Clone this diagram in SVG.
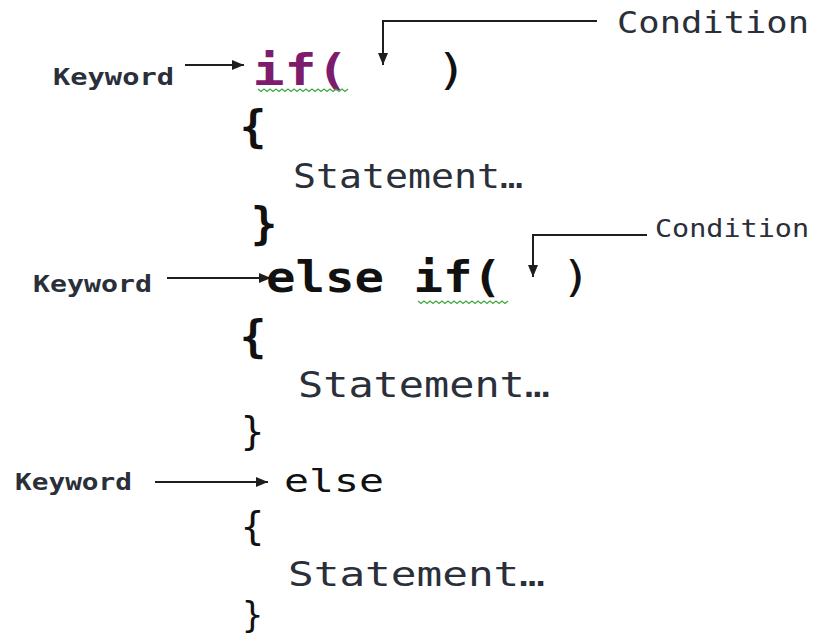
<svg xmlns="http://www.w3.org/2000/svg" width="818" height="638" viewBox="0 0 818 638">
<style>
  .mono { font-family: "DejaVu Sans Mono", "Liberation Mono", monospace; }
  .lbl { font-family: "DejaVu Sans Mono", "Liberation Mono", monospace; fill: #2a2f3a; }
  .kw { font-weight: bold; font-size: 23px; }
  .code { fill: #111111; }
  .purple { fill: #7d1b6c; font-weight: bold; }
  .arrow { fill: none; stroke: #1e1e1e; stroke-width: 2; marker-end: url(#ah); }
  .squig { fill: none; stroke: #3fa83f; stroke-width: 1.2; }
  .brace { font-family: "DejaVu Sans Mono", "Liberation Mono", monospace; fill: #111111; text-anchor: middle; }
</style>
<defs>
  <marker id="ah" markerUnits="userSpaceOnUse" markerWidth="13" markerHeight="11" refX="12" refY="5" orient="auto">
    <path d="M0,0 L12,5 L0,10 Z" fill="#1e1e1e"/>
  </marker>
</defs>
<rect width="818" height="638" fill="#ffffff"/>

<g id="connectors">
  <path class="arrow" d="M597,21 H383 V65"/>
  <path class="arrow" d="M185,65 H244"/>
  <path class="arrow" d="M647,235 H533 V277"/>
  <path class="arrow" d="M167,278 H271"/>
  <path class="arrow" d="M155,482 H268"/>
</g>

<g id="condition1"><text class="lbl" x="617" y="33" font-size="31" textLength="192" lengthAdjust="spacingAndGlyphs">Condition</text></g>
<g id="condition2"><text class="lbl" x="655" y="237" font-size="24" textLength="154" lengthAdjust="spacingAndGlyphs">Condition</text></g>

<g id="keyword1"><text class="lbl kw" x="53" y="85" textLength="121" lengthAdjust="spacingAndGlyphs">Keyword</text></g>
<g id="keyword2"><text class="lbl kw" x="33" y="292" textLength="119" lengthAdjust="spacingAndGlyphs">Keyword</text></g>
<g id="keyword3"><text class="lbl kw" x="15" y="490" textLength="117" lengthAdjust="spacingAndGlyphs">Keyword</text></g>

<g id="if-line">
  <text class="mono purple" x="252.5" y="85" font-size="42" textLength="96" lengthAdjust="spacingAndGlyphs">if(</text>
  <text class="mono code" x="435.5" y="85" font-size="42" textLength="32" lengthAdjust="spacingAndGlyphs">)</text>
  <path class="squig" d="M258,89 l3,2.5 l3,-2.5 l3,2.5 l3,-2.5 l3,2.5 l3,-2.5 l3,2.5 l3,-2.5 l3,2.5 l3,-2.5 l3,2.5 l3,-2.5 l3,2.5 l3,-2.5 l3,2.5 l3,-2.5 l3,2.5 l3,-2.5 l3,2.5 l3,-2.5 l3,2.5 l3,-2.5 l3,2.5 l3,-2.5 l3,2.5 l3,-2.5 l3,2.5 l3,-2.5 l3,2.5 l3,-2.5"/>
</g>

<g id="brace-open-1"><text class="brace" x="253" y="142" font-size="44" font-weight="bold">{</text></g>
<g id="statement1"><text class="lbl" x="293" y="188" font-size="34" textLength="230" lengthAdjust="spacingAndGlyphs">Statement…</text></g>
<g id="brace-close-1"><text class="brace" x="264" y="239" font-size="44" font-weight="bold">}</text></g>

<g id="elseif-line">
  <text class="mono code" x="266" y="292" font-size="42" font-weight="bold" textLength="236" lengthAdjust="spacingAndGlyphs">else if(</text>
  <text class="mono code" x="561" y="292" font-size="42" textLength="30" lengthAdjust="spacingAndGlyphs">)</text>
  <path class="squig" d="M418,301 l3,2.5 l3,-2.5 l3,2.5 l3,-2.5 l3,2.5 l3,-2.5 l3,2.5 l3,-2.5 l3,2.5 l3,-2.5 l3,2.5 l3,-2.5 l3,2.5 l3,-2.5 l3,2.5 l3,-2.5 l3,2.5 l3,-2.5 l3,2.5 l3,-2.5 l3,2.5 l3,-2.5 l3,2.5 l3,-2.5 l3,2.5 l3,-2.5 l3,2.5 l3,-2.5 l3,2.5 l3,-2.5"/>
</g>

<g id="brace-open-2"><text class="brace" x="253" y="352" font-size="44" font-weight="bold">{</text></g>
<g id="statement2"><text class="lbl" x="298" y="397" font-size="35" textLength="252" lengthAdjust="spacingAndGlyphs">Statement…</text></g>
<g id="brace-close-2"><text class="brace" x="252.5" y="445" font-size="39">}</text></g>

<g id="else-line"><text class="mono code" x="284" y="492" font-size="32" textLength="100" lengthAdjust="spacingAndGlyphs">else</text></g>

<g id="brace-open-3"><text class="brace" x="252.5" y="540" font-size="39">{</text></g>
<g id="statement3"><text class="lbl" x="288" y="586" font-size="34" textLength="257" lengthAdjust="spacingAndGlyphs">Statement…</text></g>
<g id="brace-close-3"><text class="brace" x="252.5" y="627" font-size="35">}</text></g>
</svg>
